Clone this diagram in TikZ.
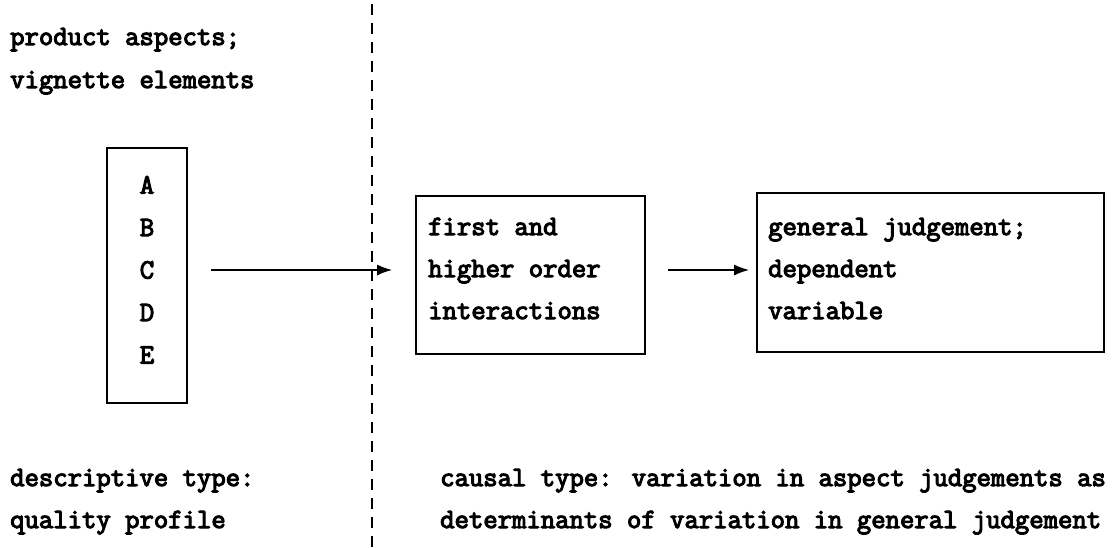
\documentclass[tikz,border=0pt]{standalone}
\usepackage{fontspec}
\usetikzlibrary{arrows.meta}
\newfontfamily\typewriter[FakeBold=4]{Latin Modern Mono}
\tikzset{
  txt/.style={font=\typewriter\fontsize{27.9}{42}\selectfont, inner sep=0pt, anchor=base west},
  letter/.style={font=\typewriter\fontsize{27.9}{42}\selectfont, inner sep=0pt, anchor=base},
  panel/.style={draw, line width=1.7pt, inner sep=0pt},
  flow/.style={line width=1.7pt, -{Latex[length=15pt,width=11pt]}},
  divider/.style={line width=1.6pt, dash pattern=on 11pt off 8pt}
}
\begin{document}
\begin{tikzpicture}[x=1pt,y=-1pt]
  \useasboundingbox (0,0) rectangle (1118,547);

  % left column headings
  \node[txt] (aspects1) at (10,45) {product aspects;};
  \node[txt] (aspects2) at (10,88) {vignette elements};

  % boxes
  \node[panel, minimum width=80pt, minimum height=255pt] (elements) at (147,275.5) {};
  \node[panel, minimum width=229pt, minimum height=158pt] (inter) at (530.5,275) {};
  \node[panel, minimum width=347pt, minimum height=159pt] (judge) at (930.5,272.5) {};

  % vignette elements A--E
  \foreach \ch [count=\i from 0] in {A,B,C,D,E}
    \node[letter] (el\ch) at (147,193.5+42.5*\i) {\ch};

  % box texts
  \node[txt] (inter1) at (428,235) {first and};
  \node[txt] (inter2) at (428,277) {higher order};
  \node[txt] (inter3) at (428,319) {interactions};
  \node[txt] (judge1) at (768,235) {general judgement;};
  \node[txt] (judge2) at (768,277) {dependent};
  \node[txt] (judge3) at (768,319) {variable};

  % flow arrows
  \coordinate (row) at (0,270);
  \draw[flow, shorten <=23pt, shorten >=23pt] (elements.east |- row) -- (inter.west |- row);
  \draw[flow, shorten <=22pt, shorten >=7pt] (inter.east |- row) -- (judge.west |- row);

  % dividing dashed line
  \coordinate (divtop) at (372,4);
  \coordinate (divbot) at (372,547);
  \draw[divider] (divtop) -- (divbot);

  % bottom captions
  \node[txt] (descr1) at (10,486) {descriptive type:};
  \node[txt] (descr2) at (10,528) {quality profile};
  \node[txt] (causal1) at (440,486) {causal type: variation in aspect judgements as};
  \node[txt] (causal2) at (440,528) {determinants of variation in general judgement};
\end{tikzpicture}
\end{document}
